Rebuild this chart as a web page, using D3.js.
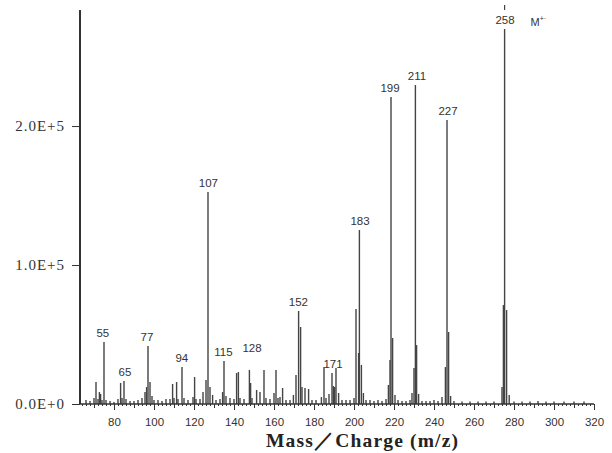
<!DOCTYPE html>
<html>
<head>
<meta charset="utf-8">
<script src="https://cdn.jsdelivr.net/npm/d3@7"></script>
<style>
  body { margin: 0; background: #fff; }
  svg { display: block; }
</style>
</head>
<body>
<div id="chart"></div>
<script>
// peak positions on the printed m/z axis
const mzValues = [
  66, 68, 70, 71, 72, 72.7, 73.3, 74, 75, 76, 78, 80, 82, 83.3, 84, 85, 86, 88, 90, 92,
  94, 95.5, 96.3, 97, 98, 99, 100, 102, 104, 106, 108, 109.3, 110, 111.3, 112, 114, 115, 117,
  119.5, 120.3, 121, 123, 124.5, 126, 127, 128, 129.3, 131, 133, 134.3, 135, 136, 138, 140,
  141.3, 142.2, 143, 145, 147.7, 148.3, 149, 151.3, 153, 155, 156, 158, 160, 161, 162, 163,
  164.3, 166, 168, 169.7, 171, 172.3, 173.3, 174, 175.5, 177.3, 179, 181, 183.7, 185, 186,
  187.5, 189, 189.7, 190.3, 191, 192.3, 194, 196, 198, 200, 201, 202.3, 202.7, 203.7, 204.7,
  206, 208, 210, 212, 214, 216, 217.2, 218, 218.5, 219.3, 220.5, 222, 224, 226, 228, 229,
  230, 230.7, 231.3, 232.3, 234, 236, 238, 240, 242, 244, 245.7, 246.5, 247.3, 248.3, 250,
  254, 258, 262, 266, 270, 274, 274.7, 275.3, 276.3, 277.6, 280, 284, 288, 292, 296, 300,
  305, 310, 315
];
const intensities = [
  2900, 2200, 4300, 15800, 3600, 8600, 7200, 2900, 44600, 2900, 2200, 1400, 3600, 15100, 4300, 16500, 3600, 2200, 2200, 2900,
  4300, 8600, 12200, 41700, 15800, 5800, 2900, 2900, 2200, 3600, 3600, 14400, 4300, 15800, 3600, 26600, 4300, 2900,
  5000, 19400, 3600, 3600, 8600, 17300, 152500, 12200, 6500, 2900, 3600, 8600, 30900, 5800, 4300, 3600,
  22300, 23000, 4300, 3600, 24500, 15100, 4300, 10100, 8600, 24500, 4300, 3600, 7900, 24500, 4300, 5000,
  11500, 2900, 2900, 6500, 20900, 66900, 55400, 12200, 11500, 10800, 2900, 2900, 5000, 26600, 4300,
  7200, 22300, 12900, 12200, 25900, 7900, 2900, 2900, 2900, 4300, 68300, 36700, 125200, 28100, 7900,
  2900, 2900, 2200, 2900, 2200, 3600, 13700, 31700, 220900, 47500, 6500, 2900, 2200, 2200, 2900, 7900,
  25900, 229500, 42400, 7200, 2200, 2200, 2200, 2900, 2200, 5000, 26600, 204300, 51800, 5800, 2200,
  1800, 1800, 1800, 1800, 1800, 12200, 71200, 269800, 67600, 6500, 1800, 1800, 1800, 2200, 1800, 1800,
  1800, 1800, 1800
];
const peakLabels = ["55", "65", "77", "94", "107", "115", "128", "152", "171", "183", "199", "211", "227", "258"];
const labelMz = [74.4, 85.5, 96.5, 113.9, 127.2, 134.7, 149, 172.2, 189.5, 203, 218, 231.5, 247, 275.5];
const xTicks = [80, 100, 120, 140, 160, 180, 200, 220, 240, 260, 280, 300, 320];
const yTicks = [0, 100000, 200000];

const width = 612, height = 453;
const svg = d3.select("#chart").append("svg")
  .attr("width", width)
  .attr("height", height);

const x = d3.scaleLinear().domain([63, 320]).range([80, 594]);
const y = d3.scaleLinear().domain([0, 283500]).range([404, 10]);

const peaks = mzValues.map((m, i) => ({ mz: m, value: intensities[i] }));

// peaks
svg.append("g")
  .selectAll("line")
  .data(peaks)
  .enter()
  .append("line")
  .attr("x1", d => x(d.mz))
  .attr("x2", d => x(d.mz))
  .attr("y1", y(0))
  .attr("y2", d => y(d.value))
  .style("stroke", "#444")
  .style("stroke-width", 1.4);

// x axis: major, medium and minor ticks
const xAxis = svg.append("g").attr("transform", `translate(0,${y(0)})`);
xAxis.append("g")
  .call(d3.axisBottom(x).tickValues(d3.range(64, 321, 2)).tickSize(2).tickFormat(""))
  .call(g => g.select(".domain").remove());
xAxis.append("g")
  .call(d3.axisBottom(x).tickValues(d3.range(70, 321, 10)).tickSize(4).tickFormat(""))
  .call(g => g.select(".domain").remove());
xAxis.append("g")
  .call(d3.axisBottom(x).tickValues(xTicks).tickSize(6).tickPadding(8))
  .call(g => g.select(".domain").attr("d", `M${x(63)},0H${x(320)}`).style("stroke-width", 1.5));
xAxis.selectAll("line").style("stroke", "#333");
xAxis.selectAll(".domain").style("stroke", "#333");
xAxis.selectAll("text")
  .style("font-family", "'Liberation Sans', Arial, sans-serif")
  .style("font-size", "11.5px")
  .style("fill", "#333");

// y axis
const yAxis = svg.append("g").attr("transform", `translate(${x(63)},0)`)
  .call(d3.axisLeft(y).tickValues(yTicks).tickSize(8).tickPadding(7)
    .tickFormat(d => d === 0 ? "0.0E+0" : (d / 1e5).toFixed(1) + "E+5"))
  .call(g => g.select(".domain").attr("d", `M0,${y(0)}V${y.range()[1]}`).style("stroke-width", 2));
yAxis.selectAll("line, .domain").style("stroke", "#333");
yAxis.selectAll("text")
  .style("font-family", "'Liberation Serif', 'Times New Roman', serif")
  .style("font-size", "15px")
  .style("letter-spacing", "1px")
  .style("fill", "#333");

// peak labels sit just above the tallest peak next to them
const labelGroup = svg.append("g")
  .style("font-family", "'Liberation Sans', Arial, sans-serif")
  .style("font-size", "11.5px")
  .style("fill", "#333")
  .attr("text-anchor", "middle");

peakLabels.forEach((txt, i) => {
  const m = labelMz[i];
  const near = peaks.filter(p => Math.abs(p.mz - m) <= 1.3);
  const top = d3.max(near, p => p.value);
  let ly = y(top) - 5;
  if (txt === "128") ly -= 26; // this one floats above its cluster
  labelGroup.append("text")
    .attr("x", x(m))
    .attr("y", ly)
    .text(txt);
});

// molecular ion marker
const mPeak = peaks[d3.maxIndex(peaks, p => p.value)];
svg.append("line")
  .attr("x1", x(mPeak.mz)).attr("x2", x(mPeak.mz))
  .attr("y1", 5).attr("y2", 10)
  .style("stroke", "#444")
  .style("stroke-width", 1.2);
const mText = svg.append("text")
  .attr("x", x(mPeak.mz) + 26)
  .attr("y", y(mPeak.value) - 3)
  .style("font-family", "'Liberation Sans', Arial, sans-serif")
  .style("font-size", "11px")
  .style("fill", "#333")
  .text("M");
mText.append("tspan")
  .attr("dy", -5)
  .style("font-size", "7px")
  .text("+·");

// axis title
svg.append("text")
  .attr("x", 266)
  .attr("y", 447)
  .attr("textLength", 192)
  .attr("lengthAdjust", "spacing")
  .style("font-family", "'Liberation Serif', 'Times New Roman', serif")
  .style("font-weight", "bold")
  .style("font-size", "19.5px")
  .style("fill", "#222")
  .text("Mass／Charge (m/z)");
</script>
</body>
</html>
